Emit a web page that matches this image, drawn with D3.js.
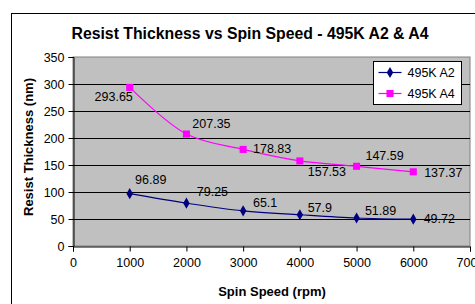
<!DOCTYPE html>
<html>
<head>
<meta charset="utf-8">
<script src="https://cdn.jsdelivr.net/npm/d3@7"></script>
<style>
  body { margin: 0; background: #fff; }
  text { font-family: "Liberation Sans", Arial, sans-serif; }
</style>
</head>
<body>
<div id="chart"></div>
<script>
const speeds = [1000, 2000, 3000, 4000, 5000, 6000]
const a2 = [96.89, 79.25, 65.1, 57.9, 51.89, 49.72]
const a4 = [293.65, 207.35, 178.83, 157.53, 147.59, 137.37]
const xTicks = [0, 1000, 2000, 3000, 4000, 5000, 6000, 7000]
const yTicks = [0, 50, 100, 150, 200, 250, 300, 350]

// label offsets from each point (centre x, baseline y), Excel-like placement
const a2Offsets = [[21, -10], [26, -7], [22, -4], [20, -3], [24, -3], [26, 4]]
const a4Offsets = [[-16, 14], [25, -6], [29, 4], [27, 15], [28, -6], [30, 5]]

const width = 475
const height = 304
const margin = { top: 57, right: 5, bottom: 58, left: 73 }

const svg = d3.select('#chart')
  .append('svg')
  .attr('width', width)
  .attr('height', height)

// chart area frame (cut by the window)
svg.append('rect')
  .attr('x', 11.5).attr('y', 13.5)
  .attr('width', 500).attr('height', 320)
  .attr('fill', '#fff')
  .attr('stroke', '#000')

const x = d3.scaleLinear().domain([0, 7000]).range([margin.left, width - margin.right])
const y = d3.scaleLinear().domain([0, 350]).range([height - margin.bottom, margin.top])

svg.append('rect')
  .attr('x', x(0)).attr('y', y(350))
  .attr('width', x(7000) - x(0)).attr('height', y(0) - y(350))
  .attr('fill', '#c0c0c0')
  .attr('stroke', '#808080')

svg.append('g')
  .selectAll('line')
  .data(yTicks.filter(d => d > 0 && d < 350))
  .join('line')
  .attr('x1', x(0)).attr('x2', x(7000))
  .attr('y1', d => Math.round(y(d)) + 0.5)
  .attr('y2', d => Math.round(y(d)) + 0.5)
  .attr('stroke', '#000')

const xAxis = g => g
  .attr('transform', `translate(0,${Math.round(y(0)) + 0.5})`)
  .call(d3.axisBottom(x).tickValues(xTicks).tickSize(5).tickPadding(7).tickFormat(d3.format('d')))
  .call(g => g.select('.domain').attr('stroke', '#000'))
  .call(g => g.selectAll('text').attr('font-size', 12.5).attr('fill', '#000'))

const yAxis = g => g
  .attr('transform', `translate(${Math.round(x(0)) + 0.5},0)`)
  .call(d3.axisLeft(y).tickValues(yTicks).tickSize(5).tickPadding(4))
  .call(g => g.select('.domain').attr('stroke', '#000'))
  .call(g => g.selectAll('text').attr('font-size', 12.5).attr('fill', '#000'))

svg.append('g').call(xAxis)
svg.append('g').call(yAxis)

const line = d3.line()
  .x((d, i) => x(speeds[i]))
  .y(d => y(d))
  .curve(d3.curveCatmullRom.alpha(0.5))

const series = [
  { name: '495K A2', values: a2, color: '#000080', shape: d3.symbolDiamond, size: 36, offsets: a2Offsets },
  { name: '495K A4', values: a4, color: '#ff00ff', shape: d3.symbolSquare, size: 50, offsets: a4Offsets }
]

series.forEach(s => {
  svg.append('path')
    .attr('d', line(s.values))
    .attr('fill', 'none')
    .attr('stroke', s.color)
    .attr('stroke-width', 1.2)

  svg.append('g')
    .selectAll('path')
    .data(s.values)
    .join('path')
    .attr('transform', (d, i) => `translate(${x(speeds[i])},${y(d)})`)
    .attr('d', d3.symbol(s.shape, s.size))
    .attr('fill', s.color)

  svg.append('g')
    .selectAll('text')
    .data(s.values)
    .join('text')
    .attr('x', (d, i) => x(speeds[i]) + s.offsets[i][0])
    .attr('y', (d, i) => y(d) + s.offsets[i][1])
    .attr('text-anchor', 'middle')
    .attr('font-size', 12.5)
    .attr('fill', '#000')
    .text(d => d)
})

// legend
const legend = svg.append('g').attr('transform', 'translate(373.5,61.5)')
legend.append('rect')
  .attr('width', 88).attr('height', 43)
  .attr('fill', '#fff').attr('stroke', '#000')

series.forEach((s, i) => {
  const ly = 11 + i * 21
  legend.append('line')
    .attr('x1', 5).attr('x2', 28).attr('y1', ly).attr('y2', ly)
    .attr('stroke', s.color).attr('stroke-width', 1.2)
  legend.append('path')
    .attr('transform', `translate(16.5,${ly})`)
    .attr('d', d3.symbol(s.shape, s.size))
    .attr('fill', s.color)
  legend.append('text')
    .attr('x', 34).attr('y', ly + 4.5)
    .attr('font-size', 12.5)
    .text(s.name)
})

svg.append('text')
  .attr('x', 250).attr('y', 39)
  .attr('text-anchor', 'middle')
  .attr('font-size', 15.8)
  .attr('font-weight', 'bold')
  .text('Resist Thickness vs Spin Speed - 495K A2 & A4')

svg.append('text')
  .attr('x', 272).attr('y', 296)
  .attr('text-anchor', 'middle')
  .attr('font-size', 13)
  .attr('font-weight', 'bold')
  .text('Spin Speed (rpm)')

svg.append('text')
  .attr('transform', 'translate(33,147) rotate(-90)')
  .attr('text-anchor', 'middle')
  .attr('font-size', 13)
  .attr('font-weight', 'bold')
  .text('Resist Thickness (nm)')
</script>
</body>
</html>
